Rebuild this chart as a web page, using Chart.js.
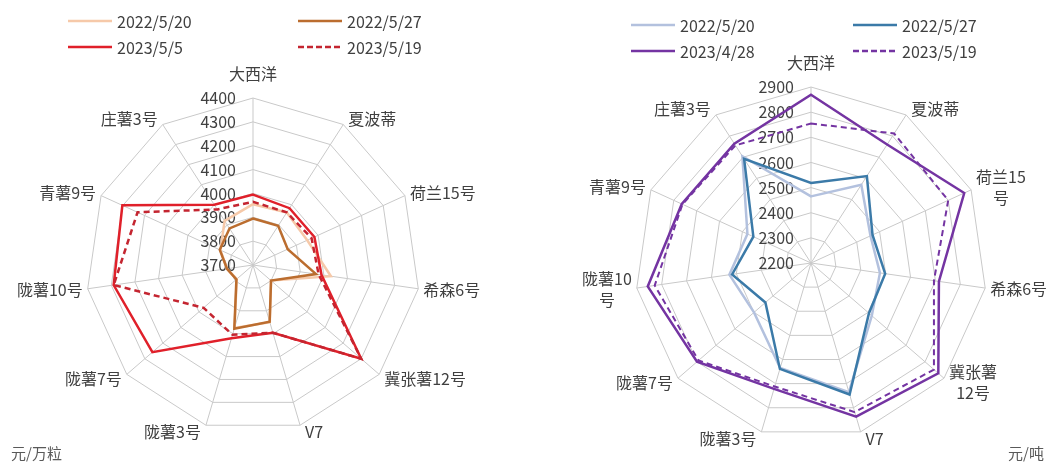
<!DOCTYPE html>
<html>
<head>
<meta charset="utf-8">
<title>种薯价格雷达图</title>
<script src="https://cdn.jsdelivr.net/npm/chart.js"></script>
<style>
  body { margin: 0; background: #fff; font-family: "Noto Sans CJK SC", "Noto Sans", sans-serif; color: #404040; }
  .panel { position: absolute; top: 0; width: 528px; height: 463px; }
  .item { position: absolute; display: flex; align-items: center; white-space: nowrap; font-size: 16px; transform: translateY(-50%); }
  .item svg { margin-right: 5px; }
  .unit { position: absolute; top: 442px; font-size: 15px; color: #595959; }
</style>
</head>
<body>
<div class="panel" style="left:0"><canvas id="seedChart"></canvas></div>
<div class="panel" style="left:528px"><canvas id="tonChart"></canvas></div>
<div id="legends"></div>
<div class="unit" style="left:11px">元/万粒</div>
<div class="unit" style="left:1008px">元/吨</div>

<script>
  // 品种（左：元/万粒，右：元/吨）
  const seedLabels = ['大西洋', '夏波蒂', '荷兰15号', '希森6号', '冀张薯12号', 'V7', '陇薯3号', '陇薯7号', '陇薯10号', '青薯9号', '庄薯3号'];
  const tonLabels = ['大西洋', '夏波蒂', ['荷兰15', '号'], '希森6号', ['冀张薯', '12号'], 'V7', '陇薯3号', '陇薯7号', ['陇薯10', '号'], '青薯9号', '庄薯3号'];

  const seedNames = ['2022/5/20', '2022/5/27', '2023/5/5', '2023/5/19'];
  const seed_20220520 = [3955, 3962, 3950, 4030, 3800, 3950, 3975, 3790, 3810, 3850, 3920];
  const seed_20220527 = [3895, 3895, 3860, 3967, 3800, 3948, 3978, 3792, 3810, 3853, 3882];
  const seed_20230505 = [3995, 3983, 3983, 3990, 4300, 3996, 4020, 4258, 4290, 4302, 4000];
  const seed_20230519 = [3965, 3962, 3970, 3978, 4300, 3996, 4005, 3974, 4290, 4232, 3977];
  const seedTicks = [3700, 3800, 3900, 4000, 4100, 4200, 4300, 4400];

  const tonNames = ['2022/5/20', '2022/5/27', '2023/4/28', '2023/5/19'];
  const ton_20220520 = [2465, 2570, 2460, 2477, 2520, 2735, 2635, 2500, 2528, 2478, 2705];
  const ton_20220527 = [2518, 2611, 2469, 2498, 2505, 2745, 2639, 2440, 2517, 2452, 2692];
  const ton_20230428 = [2869, 2760, 2870, 2714, 2870, 2837, 2722, 2800, 2856, 2765, 2764];
  const ton_20230519 = [2755, 2812, 2800, 2694, 2847, 2818, 2712, 2792, 2828, 2762, 2756];
  const tonTicks = [2200, 2300, 2400, 2500, 2600, 2700, 2800, 2900];

  const FONT = '"Noto Sans CJK SC", "Noto Sans", sans-serif';

  // tick labels left of the top spoke, category labels placed like Excel
  const excelLabels = {
    id: 'excelLabels',
    beforeDatasetsDraw(chart) {
      const s = chart.scales.r;
      const ctx = chart.ctx;
      ctx.save();
      ctx.fillStyle = '#404040';
      ctx.font = '16px ' + FONT;
      ctx.textAlign = 'right';
      ctx.textBaseline = 'middle';
      s.ticks.forEach(t => {
        ctx.fillText(String(t.value), s.xCenter - 17, s.yCenter - s.getDistanceFromCenterForValue(t.value));
      });

      ctx.font = '16px ' + FONT;
      ctx.textAlign = 'center';
      const lh = 21;
      chart.data.labels.forEach((lab, i) => {
        const a = s.getIndexAngle(i);
        const sin = Math.sin(a), cos = Math.cos(a);
        const p = s.getPointPosition(i, s.drawingArea);
        const lines = [].concat(lab);
        const w = Math.max(...lines.map(l => ctx.measureText(l).width));
        const h = lines.length * lh;
        let cx, cy;
        if (Math.abs(sin) < 0.01) {
          cx = p.x;
          cy = p.y - 14 - h / 2;
        } else {
          cx = sin > 0 ? p.x + 5 + w / 2 : p.x - 5 - w / 2;
          cy = p.y - cos * 7;
        }
        lines.forEach((l, k) => ctx.fillText(l, cx, cy - h / 2 + lh / 2 + k * lh));
      });
      ctx.restore();
    }
  };

  function makeDatasets(names, series, colors, dashed, widths) {
    return series.map((vals, i) => ({
      label: names[i],
      data: vals,
      borderColor: colors[i],
      borderWidth: widths[i],
      borderDash: dashed[i] ? [6, 4] : [],
      fill: false,
      pointRadius: 0,
      pointHoverRadius: 0,
      tension: 0,
      order: series.length - i
    }));
  }

  function makeChart(id, labels, datasets, ticks, padding) {
    return new Chart(document.getElementById(id), {
      type: 'radar',
      data: { labels: labels, datasets: datasets },
      options: {
        responsive: true,
        maintainAspectRatio: false,
        animation: false,
        layout: { padding: padding },
        plugins: { legend: { display: false }, tooltip: { enabled: false } },
        scales: {
          r: {
            min: ticks[0],
            max: ticks[ticks.length - 1],
            ticks: { display: false, stepSize: ticks[1] - ticks[0] },
            pointLabels: { display: false },
            grid: { color: '#c9c9c9', lineWidth: 1 },
            angleLines: { color: '#c9c9c9', lineWidth: 1 }
          }
        }
      },
      plugins: [excelLabels]
    });
  }

  const seedColors = ['#f6c9a9', '#bb6d2f', '#e0202a', '#c42530'];
  const tonColors = ['#b3c1de', '#3b7aa8', '#7434a2', '#7434a2'];

  const seedChart = makeChart('seedChart', seedLabels,
    makeDatasets(seedNames, [seed_20220520, seed_20220527, seed_20230505, seed_20230519], seedColors, [false, false, false, true], [2.5, 2.5, 2.5, 2.5]),
    seedTicks, { left: 86, right: 108, top: 98, bottom: 31 });

  const tonChart = makeChart('tonChart', tonLabels,
    makeDatasets(tonNames, [ton_20220520, ton_20220527, ton_20230428, ton_20230519], tonColors, [false, false, false, true], [2.5, 2.5, 2.5, 2]),
    tonTicks, { left: 107, right: 69, top: 87, bottom: 24 });

  // legend, two columns like the original
  function buildLegend(chart, cols, rows) {
    const box = document.getElementById('legends');
    chart.data.datasets.forEach((ds, i) => {
      const div = document.createElement('div');
      div.className = 'item';
      div.style.left = cols[i % 2] + 'px';
      div.style.top = rows[Math.floor(i / 2)] + 'px';
      const dash = ds.borderDash.length ? 'stroke-dasharray="6 3"' : '';
      div.innerHTML = '<svg width="44" height="6"><line x1="0" y1="3" x2="44" y2="3" stroke="' + ds.borderColor +
        '" stroke-width="2.5" ' + dash + '/></svg><span>' + ds.label + '</span>';
      box.appendChild(div);
    });
  }
  buildLegend(seedChart, [68, 298], [21, 47]);
  buildLegend(tonChart, [631, 853], [25, 51]);
</script>
</body>
</html>
